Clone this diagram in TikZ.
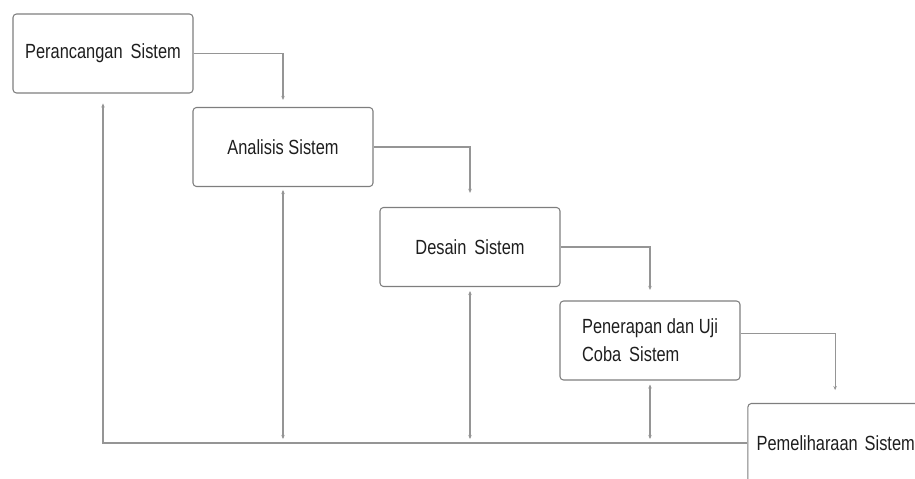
\documentclass[tikz,border=0pt]{standalone}
\usepackage{fontspec}
\setmainfont[FakeStretch=0.8]{Liberation Sans}
\usetikzlibrary{arrows.meta,calc}
\definecolor{LineClr}{HTML}{959595}
\definecolor{BoxClr}{HTML}{7E7E7E}
\definecolor{TextClr}{HTML}{1E1E1E}

\begin{document}
\begin{tikzpicture}[x=0.03cm,y=-0.03cm,
  phase/.style={draw=BoxClr,line width=0.9pt,rounded corners=3pt,
    minimum width=5.4cm,minimum height=2.37cm,text=TextClr,
    font=\fontsize{17.5}{23.8}\selectfont,align=left},
  flow/.style={draw=LineClr,line width=0.9pt,-{Stealth[length=3.5pt,width=3pt]}},
  dflow/.style={draw=LineClr,line width=0.9pt,{Stealth[length=3.5pt,width=3pt]}-{Stealth[length=3.5pt,width=3pt]}}]
\clip (0,0) rectangle (915,479);

\node[phase] (b1) at (103,53.5) {Perancangan\, Sistem};
\node[phase] (b2) at (283,147) {Analisis Sistem};
\node[phase] (b3) at (470,247) {Desain\, Sistem};
\node[phase] (b4) at (650,340.5) {Penerapan dan Uji\\Coba\, Sistem};
\node[phase,text width=5.6cm,inner xsep=7.5pt] (b5) at (850,443) {Pemeliharaan Sistem};

% turun ke tahap berikutnya
\draw[flow,shorten >=6pt] (b1.east) -| (b2.north);
\draw[flow,shorten >=12pt] (b2.east) -| (b3.north);
\draw[flow,shorten >=9pt] (b3.east) -| (b4.north);
\draw[flow,shorten >=11pt] ([yshift=6pt]b4.east) -| ([xshift=-12.7pt]b5.north);

% umpan balik
\draw[flow,shorten >=8.5pt] (b5.west) -| (b1.south);
\draw[dflow,shorten <=2.5pt,shorten >=3.4pt] (b2.south) -- (b2.south |- b5.west);
\draw[dflow,shorten <=3.4pt,shorten >=3.4pt] (b3.south) -- (b3.south |- b5.west);
\draw[dflow,shorten <=3.4pt,shorten >=3.4pt] (b4.south) -- (b4.south |- b5.west);
\end{tikzpicture}
\end{document}
